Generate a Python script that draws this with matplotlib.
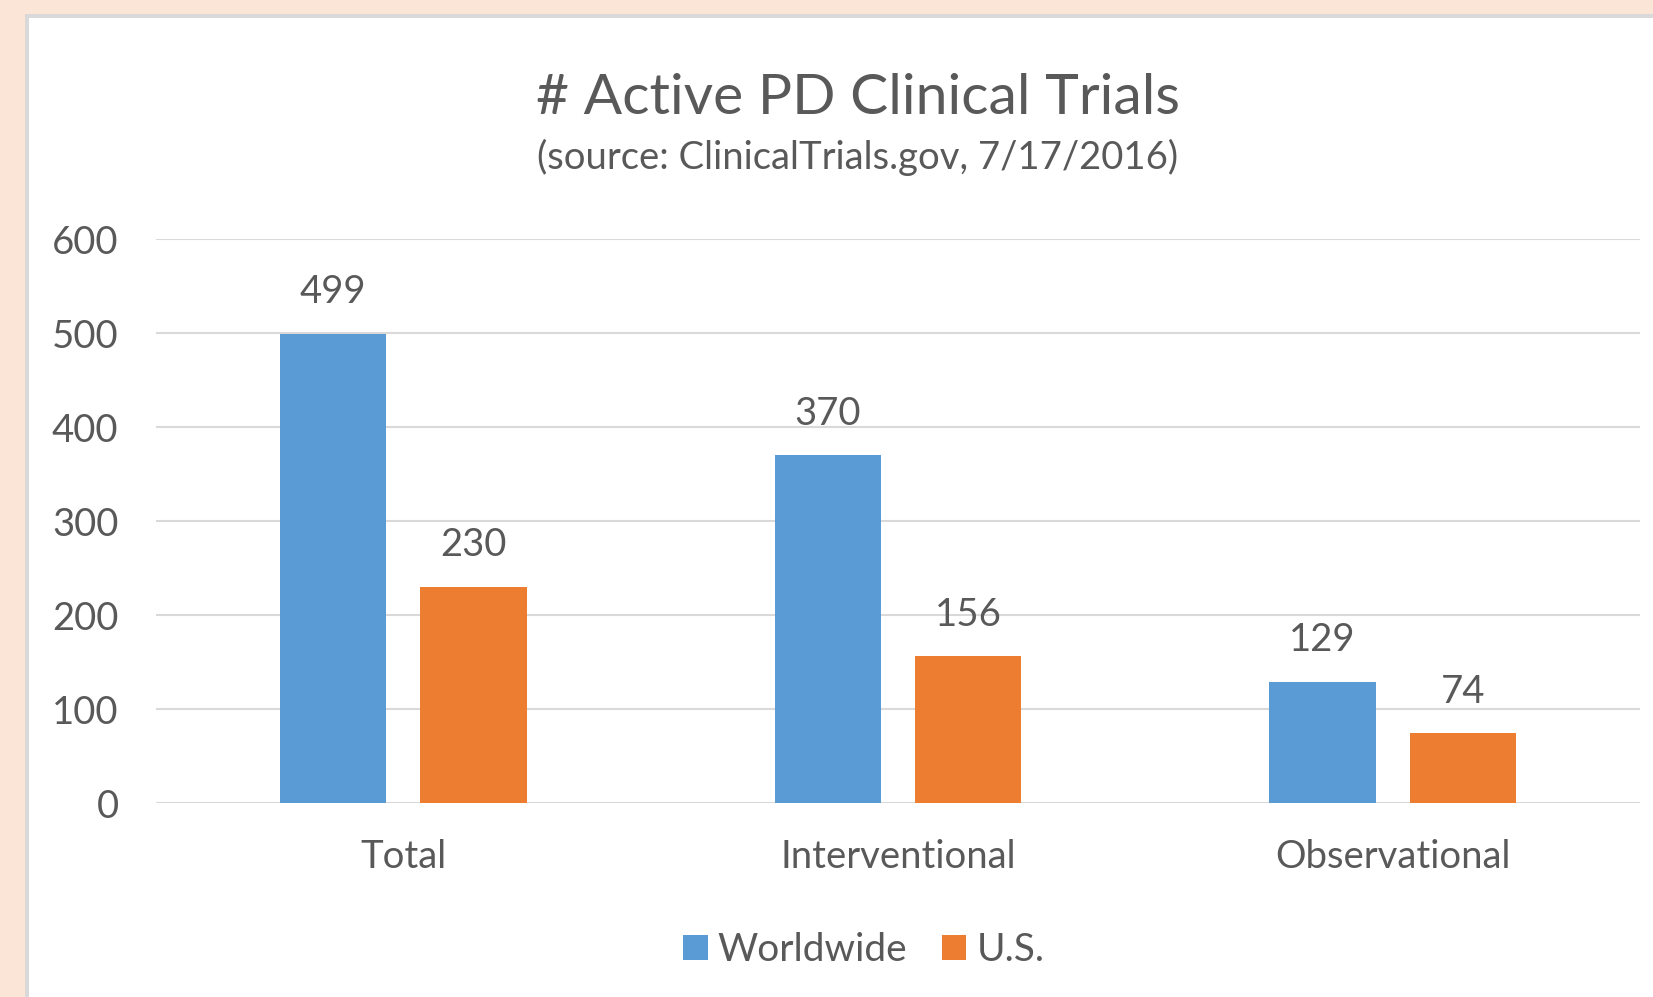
import numpy as np
import matplotlib
matplotlib.use('Agg')
import matplotlib.pyplot as plt
from matplotlib.patches import Rectangle, Patch

categories = ['Total', 'Interventional', 'Observational']
worldwide = [499, 370, 129]
us = [230, 156, 74]
series_names = ['Worldwide', 'U.S.']

BLUE = '#5B9BD5'
ORANGE = '#ED7D31'
TEXT = '#595959'
GRID = '#D9D9D9'

plt.rcParams['font.family'] = ['Lato', 'DejaVu Sans']

W, H = 1653, 997
fig = plt.figure(figsize=(W / 100, H / 100), dpi=100, facecolor='#FBE5D6')

# chart panel with thin grey frame, kept behind the axes
fig.patches.append(Rectangle((25 / W, 0), 1, 1 - 14 / H, transform=fig.transFigure,
                             facecolor='#D9D9D9', edgecolor='none', zorder=-10))
fig.patches.append(Rectangle((29 / W, 0), 1, 1 - 18 / H, transform=fig.transFigure,
                             facecolor='white', edgecolor='none', zorder=-9))

ax = fig.add_axes([156 / W, 1 - 803 / H, (1640 - 156) / W, (803 - 239) / H])
ax.set_facecolor('none')
ax.set_zorder(1)

x = np.arange(len(categories))
bw = 0.215
off = 0.142
b1 = ax.bar(x - off, worldwide, bw, color=BLUE, zorder=3)
b2 = ax.bar(x + off, us, bw, color=ORANGE, zorder=3)

for bars, vals in ((b1, worldwide), (b2, us)):
    for rect, v in zip(bars, vals):
        ax.annotate(str(v), (rect.get_x() + rect.get_width() / 2, v),
                    xytext=(0, 22), textcoords='offset points',
                    ha='center', va='baseline', fontsize=27.5, color=TEXT)

ax.set_xlim(-0.5, 2.5)
ax.set_ylim(0, 600)
ax.set_yticks(range(0, 601, 100))
ax.set_xticks(x)
ax.set_xticklabels(categories)
ax.tick_params(axis='both', length=0, labelsize=27.5, labelcolor=TEXT)
ax.tick_params(axis='y', pad=27)
ax.tick_params(axis='x', pad=26)
ax.yaxis.grid(True, color=GRID, linewidth=1.5, zorder=0)
ax.set_axisbelow(True)
for s in ax.spines.values():
    s.set_visible(False)

fig.text(858 / W, 1 - 114 / H, '# Active PD Clinical Trials', ha='center',
         va='baseline', fontsize=41, color=TEXT)
fig.text(858 / W, 1 - 169 / H, '(source: ClinicalTrials.gov, 7/17/2016)', ha='center',
         va='baseline', fontsize=27.5, color=TEXT)

handles = [Patch(facecolor=BLUE), Patch(facecolor=ORANGE)]
fig.legend(handles, series_names, loc='center', bbox_to_anchor=(864 / W, 1 - 950 / H),
           ncol=2, frameon=False, fontsize=28, labelcolor=TEXT,
           handlelength=0.62, handleheight=0.62, handletextpad=0.26,
           columnspacing=0.9)

fig.savefig('out.png', dpi=100, facecolor=fig.get_facecolor())
